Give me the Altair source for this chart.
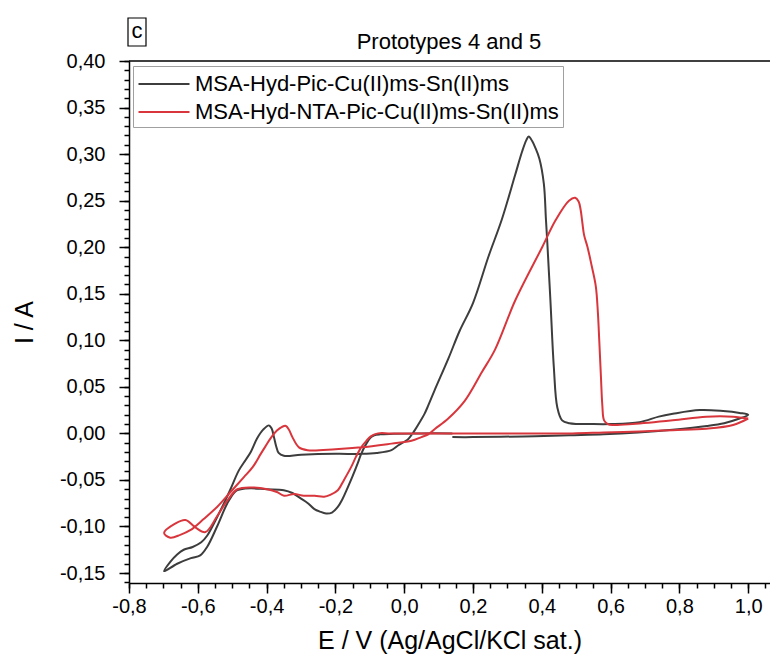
import altair as alt
import pandas as pd

FONT = "Liberation Sans"

# Cyclic voltammograms: potential E (V) and current I (A), in scan order
black_name = "MSA-Hyd-Pic-Cu(II)ms-Sn(II)ms"
black_E = [
    0.14, 0.05, -0.03, -0.07, -0.087, -0.096, -0.110, -0.125, -0.135, -0.150,
    -0.164, -0.180, -0.193, -0.210, -0.227, -0.245, -0.262, -0.280, -0.300, -0.325,
    -0.350, -0.400, -0.446, -0.475, -0.490, -0.514, -0.544, -0.573, -0.593, -0.620,
    -0.660, -0.698,
    -0.680, -0.660, -0.641, -0.615, -0.590, -0.573, -0.544, -0.520, -0.505, -0.481,
    -0.460, -0.446, -0.427, -0.410, -0.393, -0.385, -0.378, -0.372, -0.365, -0.350,
    -0.300, -0.200, -0.125, -0.080, -0.037, -0.018, 0.000, 0.012, 0.030, 0.045,
    0.059, 0.070, 0.088, 0.128, 0.161, 0.200, 0.245, 0.284, 0.322, 0.343,
    0.355, 0.362, 0.372, 0.381, 0.393, 0.406, 0.412, 0.416, 0.425, 0.435,
    0.445, 0.459, 0.480, 0.550, 0.600, 0.684, 0.740, 0.781, 0.859, 0.927,
    0.975, 1.000,
    0.975, 0.930, 0.880, 0.780, 0.680, 0.580, 0.480, 0.380, 0.280, 0.200,
    0.140,
]
black_I = [
    0.000, 0.000, -0.0005, -0.001, -0.002, -0.004, -0.011, -0.022, -0.032, -0.046,
    -0.058, -0.071, -0.079, -0.085, -0.086, -0.084, -0.081, -0.075, -0.070, -0.064,
    -0.061, -0.060, -0.059, -0.060, -0.062, -0.075, -0.100, -0.122, -0.131, -0.134,
    -0.140, -0.148,
    -0.138, -0.130, -0.125, -0.122, -0.117, -0.110, -0.090, -0.072, -0.060, -0.040,
    -0.028, -0.020, -0.005, 0.004, 0.0086, 0.005, -0.005, -0.014, -0.021, -0.024,
    -0.023, -0.022, -0.022, -0.021, -0.018, -0.013, -0.009, -0.006, 0.003, 0.012,
    0.021, 0.030, 0.046, 0.080, 0.110, 0.140, 0.190, 0.230, 0.277, 0.303,
    0.315, 0.319, 0.314, 0.307, 0.295, 0.268, 0.230, 0.205, 0.143, 0.071,
    0.028, 0.014, 0.011, 0.010, 0.010, 0.012, 0.018, 0.021, 0.025, 0.024,
    0.022, 0.020,
    0.016, 0.011, 0.008, 0.004, 0.001, -0.001, -0.002, -0.003, -0.0036, -0.004,
    -0.004,
]

red_name = "MSA-Hyd-NTA-Pic-Cu(II)ms-Sn(II)ms"
red_E = [
    1.000, 0.956, 0.878, 0.781, 0.684, 0.580, 0.489, 0.300, 0.100, -0.040,
    -0.076, -0.096, -0.110, -0.125, -0.140, -0.154, -0.175, -0.193, -0.215, -0.233,
    -0.260, -0.292, -0.320, -0.349, -0.370, -0.398, -0.446, -0.485, -0.514, -0.544,
    -0.578, -0.607, -0.636, -0.666, -0.698, -0.680, -0.651, -0.622, -0.583, -0.544,
    -0.505, -0.466, -0.440, -0.417, -0.400, -0.388, -0.370, -0.355, -0.344, -0.335,
    -0.325, -0.306, -0.281, -0.200, -0.125, -0.037, 0.021, 0.050, 0.070, 0.090,
    0.128, 0.176, 0.226, 0.264, 0.323, 0.401, 0.440, 0.479, 0.497, 0.507,
    0.513, 0.518, 0.523, 0.533, 0.545, 0.557, 0.563, 0.567, 0.572, 0.576,
    0.581, 0.592, 0.606, 0.664, 0.781, 0.878, 0.956, 1.000,
]
red_I = [
    0.016, 0.009, 0.005, 0.0035, 0.002, 0.001, 0.000, 0.000, 0.000, 0.000,
    0.000, -0.003, -0.008, -0.015, -0.025, -0.036, -0.050, -0.061, -0.066, -0.068,
    -0.067, -0.067, -0.065, -0.067, -0.063, -0.060, -0.058, -0.060, -0.072, -0.089,
    -0.106, -0.101, -0.093, -0.097, -0.107, -0.112, -0.109, -0.104, -0.092, -0.079,
    -0.063, -0.047, -0.036, -0.022, -0.012, -0.005, 0.003, 0.007, 0.008, 0.004,
    -0.004, -0.015, -0.018, -0.017, -0.015, -0.011, -0.008, -0.004, -0.001, 0.005,
    0.016, 0.035, 0.066, 0.090, 0.143, 0.200, 0.229, 0.250, 0.253, 0.249,
    0.240, 0.226, 0.213, 0.200, 0.180, 0.158, 0.130, 0.100, 0.060, 0.030,
    0.014, 0.010, 0.009, 0.010, 0.014, 0.018, 0.018, 0.016,
]

x_major = [-0.8, -0.6, -0.4, -0.2, 0.0, 0.2, 0.4, 0.6, 0.8, 1.0]
x_minor = [round(-0.8 + 0.05 * k, 2) for k in range(38)]
y_major = [-0.15, -0.10, -0.05, 0.0, 0.05, 0.10, 0.15, 0.20, 0.25, 0.30, 0.35, 0.40]
y_minor = [round(-0.16 + 0.01 * k, 2) for k in range(57)]

frames = []
for name, es, cs in [(black_name, black_E, black_I), (red_name, red_E, red_I)]:
    frames.append(pd.DataFrame({"E": es, "I": cs, "series": name, "step": range(len(es))}))
df = pd.concat(frames, ignore_index=True)

W, H = 641, 522
x_dom = [-0.8, -0.8 + W / 344.0]
y_dom = [-0.1607, 0.40]

comma_x = "(datum.value < 0 ? '-' : '') + replace(format(abs(datum.value), '.1f'), '.', ',')"
comma_y = "(datum.value < 0 ? '-' : '') + replace(format(abs(datum.value), '.2f'), '.', ',')"

lines = alt.Chart(df).mark_line(strokeWidth=2, clip=True, interpolate="catmull-rom").encode(
    x=alt.X("E:Q", scale=alt.Scale(domain=x_dom, nice=False, zero=False),
            axis=alt.Axis(orient="bottom", values=x_major, labelExpr=comma_x, tickSize=10,
                          labelFlush=False, labelPadding=3,
                          title="E / V (Ag/AgCl/KCl sat.)", titlePadding=12)),
    y=alt.Y("I:Q", scale=alt.Scale(domain=y_dom, nice=False, zero=False),
            axis=alt.Axis(orient="left", values=y_major, labelExpr=comma_y, tickSize=10,
                          labelFlush=False, labelPadding=14,
                          title="I / A", titlePadding=22)),
    color=alt.Color("series:N",
                    scale=alt.Scale(domain=[black_name, red_name], range=["#3d3d3d", "#d8363c"]),
                    legend=alt.Legend(orient="none", legendX=4, legendY=5, title=None,
                                      symbolType="M-2,0H2", symbolSize=650, symbolStrokeWidth=2,
                                      symbolOffset=13, labelOffset=17,
                                      labelFontSize=22, labelFont=FONT, labelLimit=600,
                                      strokeColor="#a0a0a0", fillColor="white", padding=4,
                                      rowPadding=3)),
    order="step:Q",
    detail="series:N",
)

minor = alt.Chart(df).mark_point(opacity=0).encode(
    x=alt.X("E:Q", scale=alt.Scale(domain=x_dom, nice=False, zero=False),
            axis=alt.Axis(orient="bottom", values=x_minor, labels=False, tickSize=5,
                          domain=False, title=None)),
    y=alt.Y("I:Q", scale=alt.Scale(domain=y_dom, nice=False, zero=False),
            axis=alt.Axis(orient="left", values=y_minor, labels=False, tickSize=5,
                          domain=False, title=None)),
)

tag = pd.DataFrame({"t": ["c"], "head": ["Prototypes 4 and 5"]})
# upper frame line of the plot box (the right side runs off the page)
top_line = alt.Chart(tag).mark_rule(color="black", strokeWidth=1.5).encode(
    x=alt.value(0), x2=alt.value(W), y=alt.value(0)
)
tag_box = alt.Chart(tag).mark_rect(fill="white", stroke="black", strokeWidth=1.2).encode(
    x=alt.value(-1), x2=alt.value(17), y=alt.value(-43), y2=alt.value(-15)
)
tag_text = alt.Chart(tag).mark_text(font=FONT, fontSize=22, color="black", baseline="middle").encode(
    x=alt.value(8), y=alt.value(-30), text="t:N"
)
heading = alt.Chart(tag).mark_text(font=FONT, fontSize=22, color="black", baseline="middle",
                                   align="center").encode(
    x=alt.value(320), y=alt.value(-19), text="head:N"
)

chart = alt.layer(minor, lines, top_line, tag_box, tag_text, heading).resolve_axis(
    x="independent", y="independent"
).properties(
    width=W, height=H,
    autosize=alt.AutoSizeParams(type="none"),
    padding={"left": 129, "top": 61, "right": 0, "bottom": 75},
).configure_view(
    stroke=None
).configure_axis(
    grid=False, domainColor="black", domainWidth=1.5, tickColor="black", tickWidth=1.5,
    labelColor="black", labelFont=FONT, labelFontSize=20,
    titleColor="black", titleFont=FONT, titleFontSize=25, titleFontWeight="normal",
)

chart.save("out.html", embed_options={"renderer": "svg", "actions": False})
